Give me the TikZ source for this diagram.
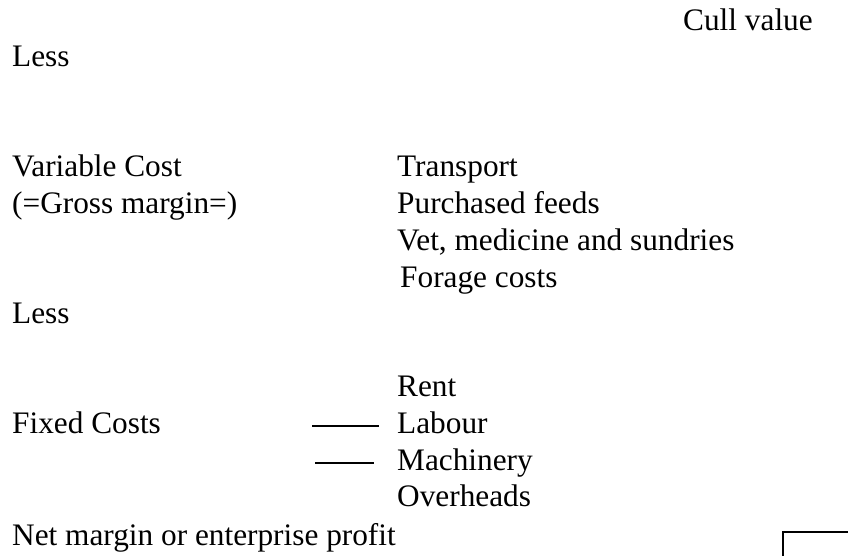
\documentclass[tikz,border=0pt]{standalone}
\usepackage{fontspec}
\setmainfont{Liberation Serif}
\usepackage{tikz}
\usetikzlibrary{calc}

\begin{document}
\begin{tikzpicture}[x=1pt, y=-1pt,
  txt/.style={anchor=base west, inner sep=0pt, font=\fontsize{31.3}{36}\selectfont},
  rule/.style={line width=1.4pt}]
\useasboundingbox (0,0) rectangle (848,556);
\node[txt] (cull) at (683,31) {Cull value};
\node[txt] (less1) at (12,67) {Less};
\node[txt] (varcost) at (12,177) {Variable Cost};
\node[txt] (gross) at (12,213) {(=Gross margin=)};
\node[txt] (transport) at (397,177) {Transport};
\node[txt] (feeds) at (397,213) {Purchased feeds};
\node[txt] (vet) at (397,250) {Vet, medicine and sundries};
\node[txt] (forage) at (400,287) {Forage costs};
\node[txt] (less2) at (12,323) {Less};
\node[txt] (rent) at (397,396) {Rent};
\node[txt] (fixed) at (12,433) {Fixed Costs};
\node[txt] (labour) at (397,433) {Labour};
\node[txt] (machinery) at (397,470) {Machinery};
\node[txt] (overheads) at (397,506) {Overheads};
\node[txt] (net) at (12,545) {Net margin or enterprise profit};
\coordinate (labourend) at ($(labour.base west)+(-85,-7)$);
\coordinate (machend) at ($(machinery.base west)+(-82,-7)$);
\draw[rule] (labourend) -- ++(67,0);
\draw[rule] (machend) -- ++(59,0);
\draw[line width=1.8pt] (783,556) -- (783,532) -- (848,532);
\end{tikzpicture}
\end{document}
